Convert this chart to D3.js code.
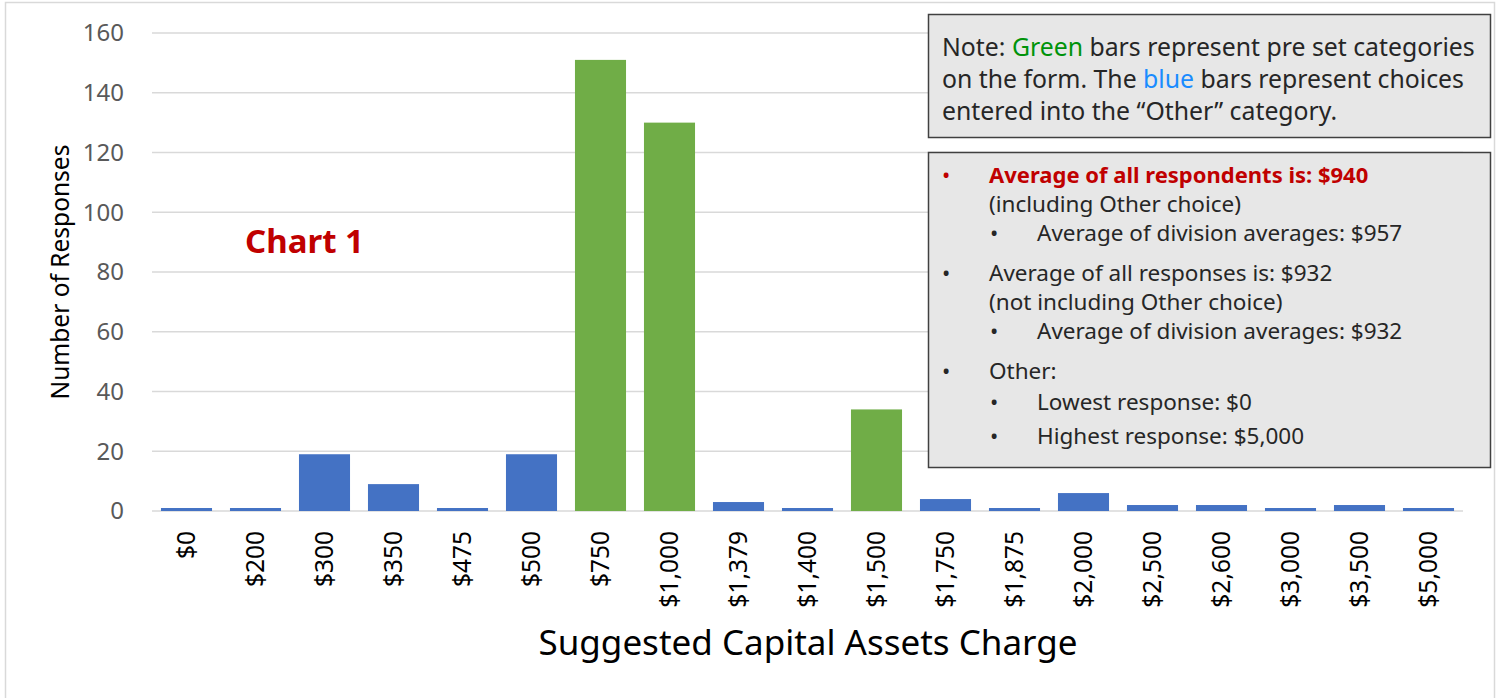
<!DOCTYPE html>
<html>
<head>
<meta charset="utf-8">
<script src="https://cdn.jsdelivr.net/npm/d3@7"></script>
<style>
  body { margin: 0; background: #fff; }
  svg { font-family: "Noto Sans", "Open Sans", sans-serif; }
</style>
</head>
<body>
<svg id="chart" width="1499" height="698"></svg>
<script>
// categories and counts
const categories = ["$0", "$200", "$300", "$350", "$475", "$500", "$750", "$1,000", "$1,379",
  "$1,400", "$1,500", "$1,750", "$1,875", "$2,000", "$2,500", "$2,600", "$3,000", "$3,500", "$5,000"];
const responses = [1, 1, 19, 9, 1, 19, 151, 130, 3, 1, 34, 4, 1, 6, 2, 2, 1, 2, 1];
// preset choices on the form (green), the rest came from "Other" (blue)
const preset = ["$750", "$1,000", "$1,500"];
const yTicks = [0, 20, 40, 60, 80, 100, 120, 140, 160];

const noteLines = [
  [["Note: ", "#262626"], ["Green", "#00930a"], [" bars represent pre set categories", "#262626"]],
  [["on the form. The ", "#262626"], ["blue", "#1a8cff"], [" bars represent choices", "#262626"]],
  [["entered into the \u201cOther\u201d category.", "#262626"]]
];
// [level, bullet?, text, red?]
const statLines = [
  [0, true, "Average of all respondents is: $940", true],
  [0, false, "(including Other choice)", false],
  [1, true, "Average of division averages: $957", false],
  [0, true, "Average of all responses is: $932", false],
  [0, false, "(not including Other choice)", false],
  [1, true, "Average of division averages: $932", false],
  [0, true, "Other:", false],
  [1, true, "Lowest response: $0", false],
  [1, true, "Highest response: $5,000", false]
];
const statY = [175, 204, 233, 273, 302, 331, 371, 402, 436];

const svg = d3.select("#chart");
const plotL = 152, plotR = 1463, plotT = 33, plotB = 511;

// outer frame
svg.append("rect").attr("x", 5.5).attr("y", 2.5).attr("width", 1489).attr("height", 720)
  .attr("fill", "none").attr("stroke", "#d9d9d9").attr("stroke-width", 1.5);

const x = d3.scaleBand().domain(categories).range([plotL, plotR]).paddingInner(0.26).paddingOuter(0.13);
const y = d3.scaleLinear().domain([0, 160]).range([plotB, plotT]);

// gridlines
svg.append("g").selectAll("line").data(yTicks).enter().append("line")
  .attr("x1", plotL).attr("x2", plotR)
  .attr("y1", d => y(d)).attr("y2", d => y(d))
  .attr("stroke", "#d9d9d9").attr("stroke-width", 1.3);

// y tick labels
svg.append("g").selectAll("text").data(yTicks).enter().append("text")
  .attr("x", 124).attr("y", d => y(d)).attr("dy", "0.35em")
  .attr("text-anchor", "end").attr("font-size", 24).attr("fill", "#595959")
  .text(d => d);

// bars
svg.append("g").selectAll("rect").data(categories).enter().append("rect")
  .attr("x", d => x(d)).attr("width", x.bandwidth())
  .attr("y", (d, i) => y(responses[i])).attr("height", (d, i) => y(0) - y(responses[i]))
  .attr("fill", d => preset.includes(d) ? "#70ad47" : "#4472c4");

// x tick labels, rotated
svg.append("g").selectAll("text").data(categories).enter().append("text")
  .attr("transform", d => `translate(${x(d) + x.bandwidth() / 2},531) rotate(-90)`)
  .attr("dy", "0.35em").attr("text-anchor", "end")
  .attr("font-size", 24.5).attr("fill", "#000")
  .text(d => d);

// axis titles
svg.append("text").attr("transform", "translate(60,272) rotate(-90)")
  .attr("dy", "0.35em").attr("text-anchor", "middle").attr("font-size", 24.5).attr("fill", "#000")
  .text("Number of Responses");
svg.append("text").attr("x", 808).attr("y", 655).attr("text-anchor", "middle")
  .attr("font-size", 35).attr("fill", "#000").text("Suggested Capital Assets Charge");

svg.append("text").attr("x", 245).attr("y", 253).attr("font-size", 33).attr("font-weight", "bold")
  .attr("fill", "#c00000").text("Chart 1");

// note box
svg.append("rect").attr("x", 928.5).attr("y", 14.5).attr("width", 562).attr("height", 123)
  .attr("fill", "#e7e7e7").attr("stroke", "#404040").attr("stroke-width", 1.5);
noteLines.forEach((parts, i) => {
  const t = svg.append("text").attr("x", 942).attr("y", 47 + i * 32).attr("dy", "0.35em")
    .attr("font-size", 24.8);
  parts.forEach(p => t.append("tspan").attr("fill", p[1]).text(p[0]));
});

// stats box
svg.append("rect").attr("x", 928.5).attr("y", 152.5).attr("width", 562).attr("height", 315)
  .attr("fill", "#e7e7e7").attr("stroke", "#404040").attr("stroke-width", 1.5);
const sg = svg.append("g");
statLines.forEach((s, i) => {
  const [lvl, bullet, txt, red] = s;
  const col = red ? "#c00000" : "#262626";
  const bx = lvl === 0 ? 942 : 990, tx = lvl === 0 ? 989 : 1037;
  if (bullet) sg.append("text").attr("x", bx).attr("y", statY[i]).attr("dy", "0.35em")
    .attr("font-size", 22).attr("fill", col).text("\u2022");
  sg.append("text").attr("x", tx).attr("y", statY[i]).attr("dy", "0.35em")
    .attr("font-size", red ? 22 : 22.5).attr("fill", col).attr("font-weight", red ? "bold" : "normal")
    .text(txt);
});
</script>
</body>
</html>
